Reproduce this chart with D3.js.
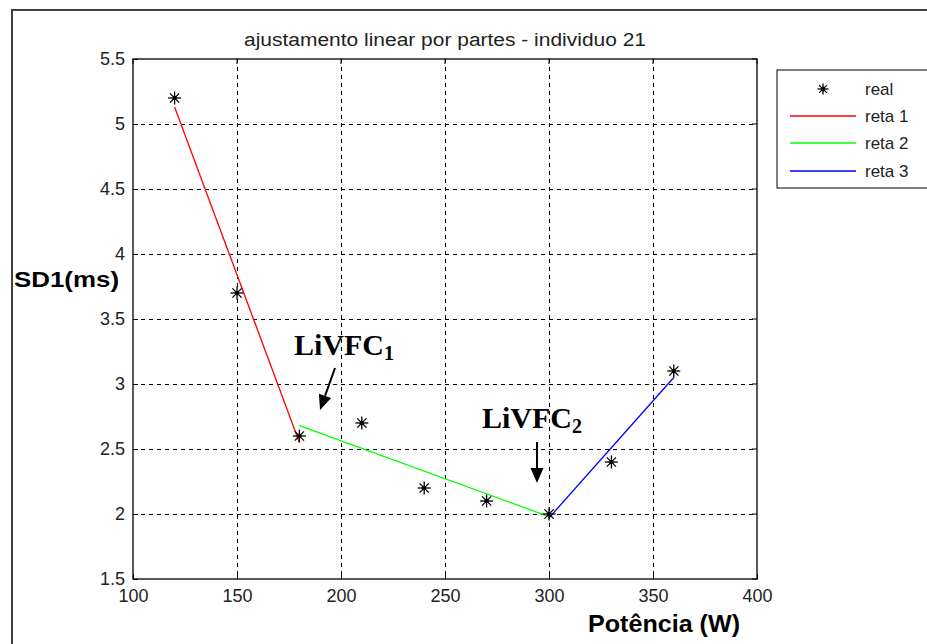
<!DOCTYPE html>
<html>
<head>
<meta charset="utf-8">
<script src="https://cdn.jsdelivr.net/npm/d3@7"></script>
<style>
  html, body { margin: 0; padding: 0; background: #fff; }
  svg { display: block; }
</style>
</head>
<body>
<svg id="chart" width="927" height="644"></svg>
<script>
// Measured SD1 values per power stage
const potencia = [120, 150, 180, 210, 240, 270, 300, 330, 360];
const sd1 = [5.2, 3.7, 2.6, 2.7, 2.2, 2.1, 2.0, 2.4, 3.1];

// Piecewise linear fit: three segments, endpoints [power, SD1]
const reta1 = [[120, 5.13], [180, 2.55]];
const reta2 = [[180, 2.68], [300, 1.98]];
const reta3 = [[300, 1.97], [360, 3.05]];

const xTicks = [100, 150, 200, 250, 300, 350, 400];
const yTicks = [1.5, 2, 2.5, 3, 3.5, 4, 4.5, 5, 5.5];

const legendItems = [
  { label: "real", type: "marker" },
  { label: "reta 1", type: "line", color: "#ff0000" },
  { label: "reta 2", type: "line", color: "#00ff00" },
  { label: "reta 3", type: "line", color: "#0000ff" }
];

const svg = d3.select("#chart");
const pL = 133, pR = 757, pT = 59, pB = 579;

const x = d3.scaleLinear().domain([100, 400]).range([pL, pR]);
const y = d3.scaleLinear().domain([1.5, 5.5]).range([pB, pT]);

// Figure frame
svg.append("rect").attr("x", 12).attr("y", 10).attr("width", 940).attr("height", 660)
  .attr("fill", "#fff").attr("stroke", "#404040").attr("stroke-width", 2);

// Grid lines
const grid = svg.append("g").attr("stroke", "#000").attr("stroke-width", 1)
  .attr("stroke-dasharray", "4,4").attr("shape-rendering", "crispEdges");
xTicks.slice(1, -1).forEach(v => {
  grid.append("line").attr("x1", x(v)).attr("x2", x(v)).attr("y1", pT).attr("y2", pB);
});
yTicks.slice(1, -1).forEach(v => {
  grid.append("line").attr("x1", pL).attr("x2", pR).attr("y1", y(v)).attr("y2", y(v));
});

// Axes with inward ticks
const tickFont = "Liberation Sans, Arial, sans-serif";
const xAxis = svg.append("g").attr("transform", `translate(0,${pB})`)
  .call(d3.axisBottom(x).tickValues(xTicks).tickSizeInner(-5).tickSizeOuter(0).tickPadding(12));
const yAxis = svg.append("g").attr("transform", `translate(${pL},0)`)
  .call(d3.axisLeft(y).tickValues(yTicks).tickFormat(d3.format("")).tickSizeInner(-5).tickSizeOuter(0).tickPadding(8));
[xAxis, yAxis].forEach(a => {
  a.select(".domain").remove();
  a.selectAll("line").attr("stroke", "#000");
  a.selectAll("text").attr("font-family", tickFont).attr("font-size", 18).attr("fill", "#222");
});
xAxis.selectAll("text").attr("dy", "0.6em");

// Mirrored ticks on top and right edges
const mirror = svg.append("g").attr("stroke", "#000");
xTicks.forEach(v => mirror.append("line").attr("x1", x(v)).attr("x2", x(v)).attr("y1", pT).attr("y2", pT + 5));
yTicks.forEach(v => mirror.append("line").attr("x1", pR).attr("x2", pR - 5).attr("y1", y(v)).attr("y2", y(v)));

// Axes box
svg.append("rect").attr("x", pL).attr("y", pT).attr("width", pR - pL).attr("height", pB - pT)
  .attr("fill", "none").attr("stroke", "#000").attr("stroke-width", 1.3);

// Fit segments
const line = d3.line().x(d => x(d[0])).y(d => y(d[1]));
[[reta1, "#ff0000"], [reta2, "#00ff00"], [reta3, "#0000ff"]].forEach(([seg, c]) => {
  svg.append("path").attr("d", line(seg)).attr("fill", "none").attr("stroke", c).attr("stroke-width", 1.3);
});

// Asterisk marker
function star(g, cx, cy, r) {
  const s = g.append("g").attr("transform", `translate(${cx},${cy})`).attr("stroke", "#000").attr("stroke-width", 1.3);
  for (let k = 0; k < 4; k++) {
    const a = k * Math.PI / 4;
    s.append("line").attr("x1", -r * Math.cos(a)).attr("y1", -r * Math.sin(a))
      .attr("x2", r * Math.cos(a)).attr("y2", r * Math.sin(a));
  }
  s.append("circle").attr("r", 2.2).attr("fill", "#000").attr("stroke", "none");
}
const pts = svg.append("g");
potencia.forEach((p, i) => star(pts, x(p), y(sd1[i]), 6.5));

// Title
svg.append("text").attr("x", (pL + pR) / 2).attr("y", 46).attr("text-anchor", "middle")
  .attr("font-family", tickFont).attr("font-size", 18).attr("textLength", 402).attr("lengthAdjust", "spacingAndGlyphs")
  .attr("fill", "#222").text("ajustamento linear por partes - individuo 21");

// Axis titles
svg.append("text").attr("x", 14).attr("y", 287).attr("font-family", tickFont).attr("font-weight", "bold")
  .attr("font-size", 22).attr("textLength", 105).attr("lengthAdjust", "spacingAndGlyphs")
  .attr("fill", "#000").text("SD1(ms)");
svg.append("text").attr("x", 588).attr("y", 632).attr("font-family", tickFont)
  .attr("font-weight", "bold").attr("font-size", 23).attr("textLength", 152).attr("lengthAdjust", "spacingAndGlyphs")
  .attr("fill", "#000").text("Potência (W)");

// Legend
const lg = svg.append("g");
lg.append("rect").attr("x", 777).attr("y", 70).attr("width", 160).attr("height", 118)
  .attr("fill", "#fff").attr("stroke", "#000").attr("stroke-width", 1);
const legendY = [89, 116, 143, 171];
legendItems.forEach((it, i) => {
  const ly = legendY[i];
  if (it.type === "marker") star(lg, 823, ly, 5.5);
  else lg.append("line").attr("x1", 790).attr("x2", 856).attr("y1", ly).attr("y2", ly)
    .attr("stroke", it.color).attr("stroke-width", 1.3);
  lg.append("text").attr("x", 865).attr("y", ly + 6).attr("font-family", tickFont).attr("font-size", 17)
    .attr("fill", "#222").text(it.label);
});

// Breakpoint annotations
const serif = "Liberation Serif, Times New Roman, serif";
function annot(tx, ty, sub) {
  const t = svg.append("text").attr("x", tx).attr("y", ty).attr("font-family", serif)
    .attr("font-weight", "bold").attr("font-size", 30).attr("fill", "#000");
  t.append("tspan").text("LiVFC");
  t.append("tspan").attr("font-size", 20).attr("dy", 5).text(sub);
}
annot(294, 355, "1");
annot(482, 428, "2");

function arrow(x1, y1, x2, y2) {
  const ang = Math.atan2(y2 - y1, x2 - x1);
  const L = 15, W = 6.5;
  const bx = x2 - L * Math.cos(ang), by = y2 - L * Math.sin(ang);
  svg.append("line").attr("x1", x1).attr("y1", y1).attr("x2", bx).attr("y2", by)
    .attr("stroke", "#000").attr("stroke-width", 2);
  const px = -Math.sin(ang) * W, py = Math.cos(ang) * W;
  svg.append("path").attr("d", `M${x2},${y2}L${bx + px},${by + py}L${bx - px},${by - py}Z`).attr("fill", "#000");
}
arrow(335, 368, 320, 410);
arrow(537, 442, 537, 483);
</script>
</body>
</html>
